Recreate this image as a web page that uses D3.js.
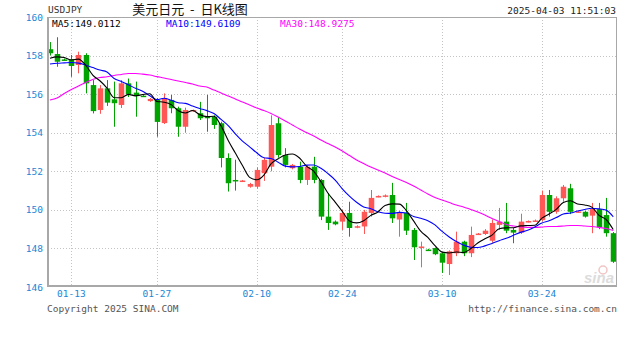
<!DOCTYPE html>
<html>
<head>
<meta charset="utf-8">
<script src="https://cdn.jsdelivr.net/npm/d3@7"></script>
<style>
  body { margin: 0; background: #fff; }
  text { font-family: "DejaVu Sans Mono", "Liberation Mono", monospace; }
</style>
</head>
<body>
<div id="chart"></div>
<script>
// daily bars, USDJPY
const dates = ["01-10","01-11","01-12","01-13","01-14","01-15","01-16","01-17","01-18","01-20","01-21","01-22","01-23","01-24","01-25",
  "01-27","01-28","01-29","01-30","01-31","02-01","02-02","02-03","02-04","02-05","02-06","02-07","02-08","02-09",
  "02-10","02-11","02-12","02-13","02-14","02-15","02-17","02-18","02-19","02-20","02-21","02-22",
  "02-24","02-25","02-26","02-27","02-28","03-01","03-02","03-03","03-04","03-05","03-06","03-07","03-08","03-09",
  "03-10","03-11","03-12","03-13","03-14","03-15","03-16","03-17","03-18","03-19","03-20","03-21","03-22","03-23",
  "03-24","03-25","03-26","03-27","03-28","03-29","03-30","03-31","04-01","04-02","04-03"];

const open = [158.33,158.08,157.80,157.81,157.51,158.03,156.47,155.18,156.30,155.73,
  155.44,156.56,156.08,155.92,155.64,155.70,154.50,155.70,155.27,154.31,
  155.13,155.01,154.83,154.83,154.49,152.69,151.55,151.48,151.20,151.20,
  151.90,152.24,154.49,152.84,152.16,152.24,151.55,152.24,151.55,149.65,
  149.39,149.39,149.84,149.10,149.14,149.84,150.68,150.70,150.77,149.50,
  149.84,148.96,148.07,147.94,148.02,147.75,147.19,147.75,148.35,147.75,
  148.73,148.75,148.40,149.22,149.39,148.96,148.82,149.39,149.42,149.47,
  150.77,149.90,150.60,151.12,149.88,149.90,149.70,150.04,149.73,148.79];
const high = [158.70,158.95,157.85,158.03,158.20,158.12,156.73,156.47,156.73,156.65,
  156.73,156.81,156.65,155.95,155.80,155.80,156.04,155.96,155.35,155.30,
  155.20,155.60,155.96,154.90,154.57,152.93,152.60,151.55,151.40,152.20,
  152.70,154.90,154.80,153.20,152.38,152.50,152.30,152.75,151.60,150.87,
  149.45,150.00,150.42,149.20,150.00,151.03,150.75,150.80,151.40,149.95,
  150.36,149.06,148.35,147.98,148.05,147.80,147.90,148.87,148.40,149.13,
  148.80,149.00,149.50,150.10,150.36,149.06,149.80,149.45,149.50,151.00,
  151.03,150.70,151.29,151.35,149.95,149.95,150.36,150.36,150.62,148.85];
const low = [158.00,157.42,157.75,156.90,157.08,156.04,155.00,154.98,155.39,154.31,
  155.28,155.85,154.83,155.88,155.60,153.79,154.45,155.01,153.79,154.00,
  155.10,154.66,154.05,154.20,152.20,150.95,151.00,151.45,151.15,151.10,
  151.50,152.00,152.70,152.20,152.10,151.38,151.29,151.38,149.47,148.96,
  149.20,148.96,148.61,149.05,148.75,149.65,150.65,150.65,149.32,148.61,
  148.70,147.40,147.02,147.88,147.65,146.73,146.62,147.60,147.60,147.55,
  148.70,148.70,148.30,148.96,148.79,148.27,148.75,149.35,149.40,149.40,
  149.65,149.80,150.42,149.78,149.85,149.60,148.79,149.00,148.61,147.25];
const close = [158.12,157.68,157.78,157.46,158.03,156.56,155.12,156.30,155.56,155.53,
  156.56,156.00,155.90,155.90,155.75,154.56,155.80,155.27,154.31,155.18,
  155.18,154.75,154.75,154.40,152.69,151.38,151.50,151.52,151.34,152.07,
  152.59,154.40,152.84,152.33,152.33,151.55,152.24,151.55,149.65,149.32,
  149.25,149.84,149.06,149.15,149.90,150.62,150.72,150.75,149.56,149.84,
  148.92,148.06,148.10,147.92,147.70,147.26,147.85,148.35,147.75,148.70,
  148.77,148.92,149.32,149.39,148.92,148.82,149.39,149.42,149.45,150.77,
  149.90,150.60,151.20,149.90,149.92,149.65,150.04,149.10,148.79,147.31];

// averages before the window starts (bars not shown)
const ma5Head = [157.86,157.93,157.90,157.77];
const ma10Head = [157.56,157.60,157.62,157.64,157.61,157.51,157.38,157.25,157.15];
const ma30 = [155.70,155.80,156.03,156.24,156.42,156.60,156.76,156.86,156.90,156.97,
  157.02,157.07,157.07,157.04,156.99,156.91,156.84,156.76,156.68,156.60,
  156.53,156.42,156.37,156.21,156.06,155.90,155.75,155.59,155.44,155.28,
  155.15,155.00,154.81,154.61,154.40,154.19,154.01,153.83,153.62,153.44,
  153.26,153.05,152.82,152.59,152.40,152.22,152.07,151.91,151.73,151.57,
  151.42,151.24,151.03,150.82,150.64,150.51,150.38,150.25,150.15,150.02,
  149.89,149.73,149.55,149.40,149.24,149.16,149.11,149.09,149.09,149.11,
  149.14,149.14,149.16,149.19,149.19,149.16,149.14,149.09,149.03,148.93];

const yTicks = [146,148,150,152,154,156,158,160];
const xTickDates = ["01-13","01-27","02-10","02-24","03-10","03-24"];
const legendItems = [
  {label: "MA5:149.0112", color: "#000000"},
  {label: "MA10:149.6109", color: "#0000ff"},
  {label: "MA30:148.9275", color: "#ff00ff"}
];

const width = 627, height = 342;
const plotL = 48, plotR = 616, plotT = 17, plotB = 286;

const svg = d3.select('#chart').append('svg')
  .attr('width', width).attr('height', height);

const x = d3.scaleBand().domain(dates).range([46.4, 616.8]).padding(0);
const y = d3.scaleLinear().domain([146, 160]).range([287, plotT]);
const cx = d => x(d) + x.bandwidth() / 2;

function rolling(n, head) {
  return close.map((c, i) => i < n - 1 ? head[i] : d3.mean(close.slice(i - n + 1, i + 1)));
}
const ma5 = rolling(5, ma5Head);
const ma10 = rolling(10, ma10Head);

// grid
svg.append('g').selectAll('line').data(yTicks.filter(t => t > 146 && t < 160)).join('line')
  .attr('x1', plotL).attr('x2', plotR)
  .attr('y1', d => Math.round(y(d)) + 0.5).attr('y2', d => Math.round(y(d)) + 0.5)
  .attr('stroke', '#c4c4c4').attr('stroke-dasharray', '1,2');
svg.append('g').selectAll('line').data(xTickDates).join('line')
  .attr('x1', d => Math.round(cx(d)) + 0.5).attr('x2', d => Math.round(cx(d)) + 0.5)
  .attr('y1', plotT).attr('y2', plotB)
  .attr('stroke', '#c4c4c4').attr('stroke-dasharray', '1,2');

// candles
const bars = dates.map((d, i) => ({d, o: open[i], h: high[i], l: low[i], c: close[i]}));
const upColor = '#ff5656', downColor = '#00a300';
const col = b => b.c >= b.o ? upColor : downColor;
const bodyW = 5.5;

const g = svg.append('g');
g.selectAll('.wick').data(bars).join('line')
  .attr('class', 'wick')
  .attr('x1', b => Math.round(cx(b.d)) + 0.5).attr('x2', b => Math.round(cx(b.d)) + 0.5)
  .attr('y1', b => y(b.h)).attr('y2', b => y(b.l))
  .attr('stroke', col).attr('stroke-width', 1);
g.selectAll('.body').data(bars).join('rect')
  .attr('class', 'body')
  .attr('x', b => Math.round(cx(b.d)) + 0.5 - bodyW / 2)
  .attr('width', bodyW)
  .attr('y', b => y(Math.max(b.o, b.c)))
  .attr('height', b => Math.max(1.5, Math.abs(y(b.o) - y(b.c))))
  .attr('fill', col);

// moving averages
const line = d3.line()
  .x((v, i) => cx(dates[i]))
  .y(v => y(v))
  .curve(d3.curveMonotoneX);
[[ma30, '#ff00ff'], [ma10, '#0000ff'], [ma5, '#000000']].forEach(([s, c]) => {
  svg.append('path').datum(s)
    .attr('fill', 'none').attr('stroke', c).attr('stroke-width', 1.1)
    .attr('d', line);
});

// frame
svg.append('rect').attr('x', plotL + 0.5).attr('y', plotT + 0.5)
  .attr('width', plotR - plotL).attr('height', plotB - plotT)
  .attr('fill', 'none').attr('stroke', '#a8a8a8');
svg.append('line').attr('x1', plotL).attr('x2', plotL).attr('y1', plotT).attr('y2', plotB + 1)
  .attr('stroke', '#a8a8a8').attr('stroke-width', 2);
svg.append('line').attr('x1', plotL).attr('x2', plotR + 1).attr('y1', plotB).attr('y2', plotB)
  .attr('stroke', '#a8a8a8').attr('stroke-width', 2);

// axes
const axisColor = '#1a86d6';
const yAxis = svg.append('g').attr('transform', `translate(${plotL},0)`)
  .call(d3.axisLeft(y).tickValues(yTicks).tickSize(0).tickPadding(5));
const xAxis = svg.append('g').attr('transform', `translate(0,${plotB})`)
  .call(d3.axisBottom(x).tickValues(xTickDates).tickSize(0).tickPadding(4));
[yAxis, xAxis].forEach(a => {
  a.select('.domain').remove();
  a.selectAll('text').attr('fill', axisColor)
    .style('font-family', '"DejaVu Sans Mono", monospace').style('font-size', '9.5px');
});

// legend
svg.append('g').selectAll('text').data(legendItems).join('text')
  .attr('x', (d, i) => 52 + i * 114).attr('y', 27)
  .attr('fill', d => d.color).style('font-size', '9.5px')
  .text(d => d.label);

// header
svg.append('text').attr('x', 48).attr('y', 13).attr('fill', '#333')
  .style('font-size', '9.5px').text('USDJPY');
svg.append('text').attr('x', 190).attr('y', 14).attr('text-anchor', 'middle').attr('fill', '#111')
  .style('font-family', '"Noto Sans CJK SC", sans-serif').style('font-size', '13px')
  .style('white-space', 'pre')
  .text('美元日元  -  日K线图');
svg.append('text').attr('x', 616).attr('y', 14).attr('text-anchor', 'end').attr('fill', '#222')
  .style('font-size', '9.5px').text('2025-04-03 11:51:03');

// footer
svg.append('text').attr('x', 47).attr('y', 312).attr('fill', '#555')
  .style('font-size', '9.5px').text('Copyright 2025 SINA.COM');
svg.append('text').attr('x', 617).attr('y', 312).attr('text-anchor', 'end').attr('fill', '#555')
  .style('font-size', '9.5px').text('http://finance.sina.com.cn');

// watermark
svg.append('circle').attr('cx', 603).attr('cy', 270).attr('r', 4)
  .attr('fill', 'none').attr('stroke', '#f2c4c4').attr('stroke-width', 1.5);
svg.append('text').attr('x', 614).attr('y', 283).attr('text-anchor', 'end')
  .attr('fill', '#dcdcdc').style('font-family', 'Arial, "Liberation Sans", sans-serif')
  .style('font-size', '15px').style('font-style', 'italic').style('font-weight', 'bold')
  .text('sina');
</script>
</body>
</html>
